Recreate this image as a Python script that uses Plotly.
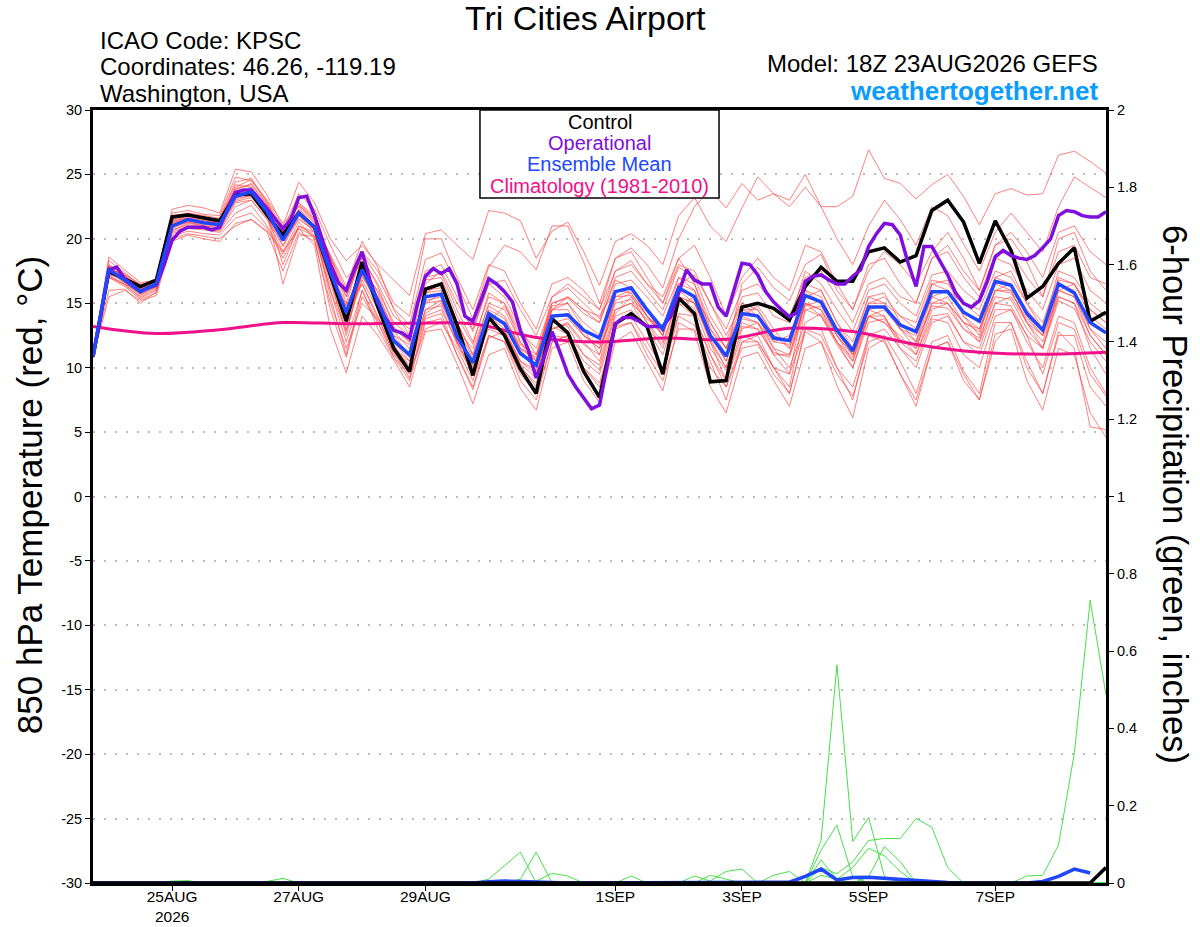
import pandas as pd
import plotly.graph_objects as go

# 6-hourly GEFS steps from 18Z 23AUG2026 out to 384h
run_start = "2026-08-23 18:00"
n_steps = 65

# ensemble mean 850 hPa temperature (C)
ens_mean = [10.85, 17.6, 16.8, 15.9, 16.5, 21.0, 21.5, 21.25, 21.1, 23.3, 23.66, 22.1, 19.9, 22.0, 20.9, 17.4,
            14.3, 17.6, 15.2, 12.1, 11.0, 15.5, 15.7, 12.4, 10.4, 14.2, 13.4, 11.1, 10.2, 14.0, 14.1, 12.9,
            12.3, 15.9, 16.2, 14.5, 13.0, 16.2, 15.5, 12.5, 10.9, 14.2, 14.0, 12.3, 12.1, 15.6, 15.1, 12.9,
            11.3, 14.7, 14.7, 13.3, 12.8, 15.9, 15.9, 14.3, 13.6, 16.7, 16.4, 14.2, 12.9, 16.5, 15.8, 13.5, 12.7]

# control run
control = [10.85, 17.45, 16.9, 16.3, 16.8, 21.7, 21.85, 21.6, 21.4, 23.4, 23.5, 21.85, 20.3, 22.0, 20.9, 17.2,
           13.6, 18.2, 14.7, 11.5, 9.7, 16.1, 16.5, 13.3, 9.4, 13.9, 12.5, 9.9, 8.0, 13.8, 12.7, 9.7,
           7.7, 13.4, 14.2, 13.2, 9.5, 15.4, 14.2, 8.9, 9.0, 14.7, 15.0, 14.6, 13.7, 16.3, 17.8, 16.7,
           16.7, 19.0, 19.3, 18.2, 18.7, 22.2, 23.0, 21.3, 18.1, 21.4, 19.1, 15.4, 16.3, 18.1, 19.3, 13.6, 14.3]

# operational GFS, 3-hourly
operational = [10.85, 14.3, 17.6, 17.8, 16.9, 16.4, 15.9, 16.2, 16.4, 18.0, 19.9, 20.6, 20.9, 20.9, 20.9, 20.7,
               20.9, 22.3, 23.6, 23.8, 23.8, 23.1, 22.3, 21.5, 20.8, 21.5, 23.2, 23.3, 21.8, 19.9, 18.0, 16.6,
               16.0, 17.6, 19.0, 16.8, 15.0, 13.8, 12.9, 12.7, 12.3, 15.0, 17.1, 17.7, 17.3, 17.7, 16.5, 14.0,
               13.6, 15.2, 16.9, 16.5, 15.9, 15.1, 12.9, 11.4, 9.2, 10.8, 12.8, 11.2, 9.5, 8.5, 7.6, 6.8,
               7.1, 10.3, 13.4, 13.9, 13.9, 13.6, 13.2, 13.2, 13.2, 14.0, 15.8, 17.6, 16.8, 16.5, 16.5, 14.7,
               14.0, 16.0, 18.1, 18.0, 17.2, 15.9, 15.1, 14.5, 13.95, 14.3, 16.7, 17.1, 17.2, 16.8, 16.5, 16.5,
               17.1, 17.6, 19.4, 20.4, 21.2, 21.1, 20.3, 18.1, 16.3, 19.4, 19.4, 18.3, 17.2, 15.8, 15.0, 14.7,
               15.2, 16.7, 18.6, 19.1, 18.7, 18.5, 18.4, 18.7, 19.3, 20.0, 21.8, 22.2, 22.1, 21.8, 21.7, 21.7, 22.1]

# 1981-2010 climatology, once a day
climatology = [13.2, 12.65, 12.95, 13.5, 13.4, 13.45, 13.4, 12.35, 12.0, 12.3, 12.2, 13.05, 12.8, 11.8, 11.2, 11.05, 11.2]

# perturbed members
members = [
    [10.8, 17.9, 17.3, 16.4, 16.9, 22.3, 22.6, 22.4, 22.0, 25.4, 25.2, 23.4, 21.0, 24.4, 22.8, 20.0,
     18.3, 19.5, 18.0, 16.8, 15.6, 20.4, 20.7, 19.5, 18.4, 22.2, 22.0, 21.4, 18.5, 20.6, 21.3, 19.0,
     16.4, 19.8, 20.4, 19.5, 18.0, 21.8, 23.2, 21.0, 19.8, 22.4, 24.8, 23.5, 23.0, 25.0, 22.5, 22.5,
     23.3, 26.9, 24.7, 24.3, 23.1, 24.2, 25.0, 23.3, 21.1, 23.5, 23.9, 23.4, 23.5, 26.5, 26.8, 26.0, 25.1],
    [10.9, 17.2, 16.9, 16.0, 16.6, 21.8, 22.0, 21.8, 21.6, 24.4, 24.7, 22.9, 20.8, 22.6, 21.6, 18.6,
     15.5, 18.9, 17.0, 14.6, 13.3, 18.4, 18.9, 16.5, 13.8, 17.8, 19.5, 19.0, 17.6, 21.0, 21.0, 18.2,
     15.0, 18.5, 19.3, 18.0, 16.2, 20.0, 22.5, 23.8, 22.4, 24.3, 23.0, 23.5, 22.5, 24.0, 22.5, 20.0,
     18.0, 21.0, 23.0, 21.5, 19.5, 22.5, 21.8, 19.6, 17.5, 20.5, 22.0, 20.5, 19.0, 22.5, 24.8, 24.0, 23.2],
    [10.8, 17.0, 16.5, 15.4, 16.0, 20.2, 20.6, 20.4, 20.3, 21.6, 22.0, 20.8, 18.5, 20.8, 19.5, 13.0,
     9.6, 14.0, 12.5, 10.6, 8.5, 12.8, 13.0, 10.3, 7.2, 11.0, 11.5, 8.4, 6.7, 11.5, 12.0, 9.0,
     7.3, 12.0, 12.8, 10.5, 8.2, 13.5, 12.8, 8.5, 6.5, 10.8, 11.2, 9.0, 7.0, 11.5, 12.0, 8.6,
     6.1, 11.5, 12.2, 9.5, 7.0, 11.5, 12.0, 9.5, 7.5, 12.6, 13.0, 9.0, 6.7, 11.5, 11.0, 6.5, 4.6],
    [10.9, 17.5, 16.6, 15.7, 16.2, 20.5, 21.0, 20.8, 20.6, 22.5, 23.0, 21.5, 19.0, 21.3, 20.0, 14.5,
     10.8, 15.5, 13.5, 11.2, 9.2, 13.8, 14.2, 11.0, 8.3, 12.3, 12.8, 10.2, 8.5, 12.5, 12.3, 10.0,
     8.8, 13.2, 13.5, 11.5, 9.5, 14.0, 13.3, 10.5, 7.5, 12.0, 12.5, 10.0, 8.0, 12.8, 12.0, 9.5,
     7.8, 12.0, 12.5, 10.5, 8.0, 12.0, 12.5, 9.7, 8.0, 13.5, 13.5, 10.5, 8.0, 12.8, 11.5, 5.4, 5.2],
    [10.8, 17.8, 17.1, 16.2, 16.8, 21.5, 21.9, 21.7, 21.5, 23.9, 24.2, 22.6, 20.6, 22.8, 21.5, 18.2,
     15.5, 18.6, 16.3, 13.2, 12.0, 16.8, 17.0, 14.0, 11.8, 15.8, 15.0, 12.8, 11.5, 15.0, 15.4, 14.2,
     13.5, 17.0, 17.5, 16.0, 14.5, 17.8, 17.0, 14.0, 12.0, 15.5, 15.8, 14.0, 13.5, 17.5, 16.5, 14.5,
     12.8, 16.0, 16.5, 15.0, 14.0, 17.2, 17.5, 16.0, 15.0, 18.5, 18.0, 16.0, 14.5, 18.0, 18.5, 16.0, 15.0],
    [10.8, 17.4, 16.6, 15.6, 16.3, 20.6, 21.2, 21.0, 20.9, 22.9, 23.2, 21.8, 19.4, 21.6, 20.5, 16.5,
     13.0, 16.8, 14.5, 11.5, 10.2, 14.5, 14.8, 11.8, 9.5, 13.3, 12.8, 10.3, 9.2, 13.0, 13.4, 11.8,
     11.0, 15.0, 15.3, 13.5, 12.0, 15.3, 14.6, 11.5, 9.8, 13.2, 13.0, 11.2, 10.8, 14.5, 14.0, 11.8,
     10.0, 13.5, 13.8, 12.2, 11.5, 14.8, 14.6, 13.0, 12.3, 15.5, 15.3, 13.0, 11.5, 15.2, 14.6, 12.0, 10.5],
    [10.9, 18.6, 17.6, 16.6, 16.8, 22.0, 22.2, 21.9, 21.8, 24.8, 24.5, 23.0, 21.2, 22.5, 21.3, 17.0,
     12.5, 17.5, 15.0, 12.0, 10.5, 15.8, 16.0, 12.0, 9.5, 13.5, 14.8, 12.5, 10.5, 15.5, 16.2, 15.0,
     13.8, 17.5, 18.3, 16.5, 15.5, 18.5, 16.5, 13.0, 11.0, 16.5, 17.8, 16.2, 15.2, 18.0, 18.8, 16.0,
     14.5, 17.5, 19.0, 18.0, 16.5, 19.0, 20.5, 18.5, 16.0, 19.5, 20.0, 18.2, 15.5, 20.0, 20.5, 17.5, 16.0],
    [10.8, 17.0, 16.3, 15.3, 15.8, 20.0, 20.4, 20.2, 20.0, 21.0, 21.5, 20.5, 17.5, 20.5, 19.8, 15.0,
     11.5, 15.0, 13.8, 12.5, 11.8, 15.0, 15.8, 13.0, 10.8, 14.0, 13.0, 10.5, 9.8, 13.2, 12.6, 11.0,
     10.2, 14.2, 15.5, 14.0, 12.5, 16.5, 17.2, 15.0, 12.5, 15.0, 14.0, 11.5, 10.0, 13.5, 14.2, 12.0,
     10.5, 14.5, 14.0, 11.5, 10.0, 13.5, 14.0, 12.0, 11.0, 14.5, 14.5, 12.5, 11.5, 15.5, 15.0, 11.5, 9.5],
    [10.8, 17.7, 17.2, 16.5, 16.6, 21.3, 21.8, 21.5, 21.3, 24.0, 24.6, 22.8, 20.4, 22.3, 21.2, 18.8,
     16.3, 19.8, 17.8, 14.5, 12.5, 17.5, 18.0, 15.5, 12.8, 16.5, 15.5, 13.0, 11.0, 14.8, 15.0, 13.5,
     12.5, 16.5, 16.8, 15.5, 14.0, 17.0, 16.0, 13.0, 11.5, 14.5, 14.5, 12.5, 11.5, 16.0, 15.5, 13.0,
     11.0, 15.0, 15.5, 14.0, 13.5, 16.8, 16.5, 15.0, 14.5, 17.5, 17.0, 15.0, 13.5, 17.0, 16.5, 14.0, 13.0],
    [10.9, 17.3, 16.9, 15.8, 16.4, 20.8, 21.3, 21.1, 21.0, 23.1, 23.8, 22.5, 20.8, 22.8, 21.8, 18.0,
     14.0, 17.2, 14.8, 11.8, 10.0, 14.2, 15.0, 12.6, 10.0, 13.8, 13.6, 11.8, 11.0, 14.5, 14.5, 12.5,
     11.5, 14.5, 15.0, 13.8, 12.8, 16.0, 15.5, 12.0, 10.0, 13.5, 13.0, 11.0, 11.0, 15.0, 14.5, 12.0,
     10.0, 14.0, 14.5, 13.0, 12.5, 15.5, 15.0, 13.5, 13.0, 16.5, 16.0, 13.5, 12.0, 16.0, 15.5, 13.0, 12.0],
    [10.8, 17.9, 17.0, 16.0, 16.5, 21.2, 21.6, 21.3, 21.2, 23.5, 24.0, 22.3, 20.0, 22.2, 21.0, 18.5,
     15.0, 19.0, 17.5, 15.0, 14.0, 20.0, 20.0, 17.0, 14.5, 18.0, 17.5, 15.0, 13.0, 16.5, 17.0, 16.0,
     14.5, 18.5, 19.0, 17.0, 15.0, 18.0, 17.5, 15.0, 13.0, 16.0, 16.5, 15.0, 14.0, 17.0, 17.5, 15.5,
     13.5, 16.5, 17.0, 15.5, 15.0, 18.5, 19.0, 17.0, 15.5, 18.8, 19.0, 17.0, 15.5, 19.0, 19.5, 17.0, 16.5],
    [10.8, 16.0, 16.1, 15.0, 15.9, 20.4, 20.8, 20.7, 20.5, 22.0, 22.6, 21.0, 18.8, 21.0, 20.3, 16.0,
     12.0, 16.0, 13.0, 10.8, 9.5, 13.0, 13.5, 11.5, 9.0, 12.5, 12.0, 9.5, 8.0, 12.0, 12.5, 10.5,
     9.5, 13.5, 14.0, 12.0, 10.0, 14.2, 14.0, 11.0, 9.0, 12.5, 12.0, 10.0, 9.5, 13.0, 12.5, 10.0,
     8.5, 12.5, 13.0, 11.5, 10.5, 13.8, 13.5, 11.0, 10.0, 14.0, 14.5, 12.0, 10.0, 14.0, 13.5, 10.0, 8.0],
    [10.9, 17.6, 16.8, 15.9, 16.7, 21.0, 21.4, 21.2, 21.2, 23.5, 23.9, 22.0, 16.5, 20.3, 20.2, 17.5,
     13.5, 17.0, 15.5, 13.0, 12.0, 16.0, 16.2, 13.5, 11.0, 15.0, 14.5, 12.0, 10.5, 14.5, 15.0, 13.0,
     11.0, 15.5, 16.0, 14.5, 12.5, 16.5, 16.0, 12.5, 10.5, 14.0, 13.5, 11.0, 9.5, 15.5, 16.0, 13.5,
     11.5, 15.5, 15.8, 13.5, 12.0, 16.5, 16.8, 14.0, 12.5, 17.0, 17.5, 15.0, 13.0, 16.5, 16.0, 13.0, 11.5],
    [10.8, 18.3, 17.4, 16.3, 16.6, 21.6, 22.0, 21.6, 21.5, 24.2, 24.0, 22.4, 20.6, 23.5, 22.3, 19.5,
     17.0, 18.0, 15.8, 12.8, 11.5, 15.2, 15.5, 12.8, 11.5, 14.8, 14.0, 11.5, 9.5, 13.5, 13.2, 11.0,
     9.8, 14.0, 14.5, 13.0, 11.8, 15.5, 15.0, 12.0, 9.0, 13.0, 13.5, 12.0, 12.5, 16.0, 15.0, 12.5,
     11.0, 14.0, 14.0, 12.0, 11.0, 14.5, 15.0, 13.0, 12.0, 15.0, 15.5, 13.5, 12.5, 16.8, 16.5, 14.5, 13.5],
    [10.8, 15.5, 16.0, 15.2, 15.6, 19.8, 20.3, 20.0, 19.8, 21.2, 21.5, 20.6, 19.0, 20.8, 20.2, 17.0,
     14.8, 16.5, 14.0, 11.0, 9.8, 14.0, 14.5, 12.0, 10.5, 13.0, 12.5, 10.0, 8.8, 13.0, 13.5, 12.0,
     10.5, 14.5, 15.0, 13.0, 11.0, 14.8, 15.5, 13.5, 11.5, 14.0, 14.8, 13.0, 11.5, 14.8, 15.2, 13.0,
     11.5, 15.0, 15.0, 13.0, 11.5, 15.0, 15.5, 13.5, 12.0, 16.0, 16.5, 14.0, 12.5, 15.5, 15.0, 12.5, 11.0],
    [10.8, 17.5, 17.0, 16.1, 16.4, 21.1, 21.5, 21.3, 21.1, 23.4, 23.6, 22.0, 18.0, 21.0, 20.5, 16.0,
     12.8, 17.5, 16.0, 13.5, 12.5, 17.0, 17.3, 14.5, 12.0, 15.5, 15.0, 12.0, 10.0, 14.0, 14.0, 12.5,
     11.8, 15.5, 15.6, 13.5, 11.5, 15.0, 14.0, 11.0, 8.5, 12.0, 12.0, 10.0, 8.5, 14.5, 14.8, 12.5,
     10.5, 14.0, 13.5, 12.5, 11.0, 14.0, 14.2, 12.0, 11.5, 15.0, 14.8, 12.5, 9.5, 13.5, 13.0, 9.5, 7.8],
    [10.9, 17.6, 16.7, 16.0, 16.6, 21.2, 21.7, 21.4, 21.3, 23.6, 23.5, 22.4, 20.5, 22.2, 21.0, 17.8,
     14.8, 17.8, 15.5, 12.5, 11.0, 15.8, 16.5, 13.5, 11.0, 14.5, 13.8, 11.5, 10.5, 15.0, 15.5, 14.5,
     13.5, 16.8, 16.2, 14.0, 13.0, 17.0, 16.5, 13.5, 11.5, 15.0, 14.5, 12.5, 12.0, 16.5, 16.0, 13.5,
     12.0, 15.5, 15.0, 14.0, 13.0, 16.5, 16.0, 15.0, 14.0, 17.0, 16.5, 14.5, 13.0, 17.5, 17.0, 15.0, 14.0],
    [10.8, 17.2, 16.4, 15.5, 16.1, 20.7, 21.1, 20.9, 20.7, 22.8, 23.0, 21.6, 19.5, 21.8, 20.6, 15.5,
     11.0, 16.0, 13.5, 10.8, 9.0, 13.5, 13.8, 11.0, 8.5, 12.5, 12.0, 9.0, 7.5, 12.0, 12.5, 10.0,
     8.5, 13.0, 13.5, 11.0, 9.0, 13.0, 13.0, 10.0, 8.5, 11.5, 11.8, 9.5, 8.0, 13.0, 13.0, 10.0,
     7.5, 12.5, 12.0, 9.5, 7.5, 11.5, 12.0, 9.0, 7.5, 12.0, 13.5, 10.0, 8.0, 12.5, 12.5, 8.5, 7.0],
    [10.8, 18.0, 17.2, 16.2, 16.5, 21.4, 21.6, 21.4, 21.2, 23.0, 23.4, 22.2, 20.2, 22.0, 21.0, 17.5,
     14.0, 16.5, 13.8, 11.5, 10.5, 14.5, 15.2, 12.8, 10.2, 14.0, 13.5, 11.5, 10.8, 14.5, 15.5, 14.5,
     14.0, 16.0, 15.8, 14.0, 12.8, 15.5, 15.0, 12.5, 10.5, 14.5, 14.0, 12.0, 11.8, 15.0, 14.5, 12.5,
     11.0, 14.0, 13.5, 12.0, 11.8, 15.0, 15.0, 13.5, 12.8, 16.0, 16.0, 13.5, 11.5, 16.0, 16.5, 14.5, 13.5],
    [10.9, 17.1, 16.5, 15.8, 16.3, 20.9, 21.3, 21.0, 20.8, 23.2, 23.3, 21.8, 19.8, 21.5, 20.7, 16.8,
     13.8, 17.2, 15.0, 12.0, 10.8, 15.0, 15.2, 12.0, 9.8, 13.5, 12.8, 10.5, 9.5, 13.5, 13.8, 12.5,
     11.5, 15.2, 15.8, 14.0, 12.5, 16.0, 15.0, 12.2, 10.0, 13.8, 13.5, 11.5, 11.0, 15.0, 14.0, 12.0,
     10.8, 14.5, 14.8, 13.0, 12.0, 15.5, 16.0, 14.0, 13.0, 16.0, 15.8, 13.8, 12.5, 16.0, 15.5, 12.5, 11.0],
    [10.8, 17.8, 17.0, 16.1, 16.6, 21.4, 21.9, 21.6, 21.4, 23.8, 24.3, 22.7, 20.6, 22.6, 21.4, 18.6,
     16.0, 18.5, 16.5, 14.0, 13.0, 16.5, 17.5, 15.0, 13.0, 16.5, 16.8, 14.5, 12.5, 15.5, 16.5, 15.5,
     14.5, 17.5, 18.0, 16.5, 15.0, 18.5, 19.5, 17.0, 14.0, 17.0, 18.5, 17.0, 16.0, 19.5, 19.0, 16.5,
     14.5, 18.0, 18.5, 16.5, 15.0, 18.5, 19.5, 17.5, 16.0, 19.5, 20.5, 19.0, 17.0, 20.5, 21.0, 19.0, 18.0],
]

# 6-hour precipitation (inches) for the members that had any
z = [0.0] * 25
precip_members = [
    z + [0.0] * 21 + [0.111, 0.564, 0.107, 0.17, 0.017] + [0.0] * 14,
    z + [0.0] * 21 + [0.085, 0.15, 0.016] + [0.0] * 16,
    z + [0.0] * 21 + [0.04, 0.024, 0.055, 0.11, 0.115, 0.115, 0.167, 0.144, 0.04] + [0.0] * 10,
    z + [0.0] * 24 + [0.016, 0.094, 0.055] + [0.0] * 13,
    z + [0.0] * 34 + [0.018, 0.02, 0.098, 0.336, 0.732, 0.487],
    z + [0.01, 0.044, 0.08] + [0.0] * 37,
    z + [0.0, 0.0, 0.01, 0.08] + [0.0] * 36,
    z + [0.0, 0.0, 0.0, 0.005, 0.025, 0.018] + [0.0] * 34,
    [0.0] * 5 + [0.005, 0.006, 0.0, 0.0, 0.0, 0.0, 0.004, 0.012] + [0.0] * 30 + [0.02, 0.03] + [0.0] * 20,
    z + [0.0] * 13 + [0.018, 0.005, 0.03, 0.036] + [0.0] * 23,
    z + [0.0] * 9 + [0.018] + [0.0] * 4 + [0.02, 0.01] + [0.0] * 24,
    z + [0.0] * 21 + [0.02, 0.01, 0.04, 0.09, 0.07, 0.03] + [0.0] * 13,
    z + [0.0] * 21 + [0.06, 0.01] + [0.0] * 18,
]
precip_mean = z + [0.003, 0.005, 0.004, 0.002] + [0.0] * 15 + [0.002, 0.017, 0.036, 0.008, 0.014, 0.015,
                                                               0.012, 0.008, 0.006, 0.003, 0.001, 0.0, 0.0,
                                                               0.0, 0.0, 0.0, 0.004, 0.017, 0.036, 0.026]
precip_control = [0.0] * 64 + [0.04]

tick_dates = ["2026-08-25", "2026-08-27", "2026-08-29", "2026-09-01", "2026-09-03", "2026-09-05", "2026-09-07"]
tick_labels = ["25AUG<br>2026", "27AUG", "29AUG", "1SEP", "3SEP", "5SEP", "7SEP"]
temp_ticks = list(range(-30, 31, 5))

t6 = pd.date_range(run_start, periods=n_steps, freq="6h")
t3 = pd.date_range(run_start, periods=len(operational), freq="3h")
t24 = pd.date_range(run_start, periods=len(climatology), freq="24h")

fig = go.Figure()
for m in members:
    fig.add_trace(go.Scatter(x=t6, y=m, mode="lines", line=dict(color="rgba(255,60,60,0.65)", width=1),
                             hoverinfo="skip"))
for p in precip_members:
    fig.add_trace(go.Scatter(x=t6, y=p, yaxis="y2", mode="lines", line=dict(color="#48e048", width=1),
                             hoverinfo="skip"))
fig.add_trace(go.Scatter(x=t24, y=climatology, mode="lines", line=dict(color="#f0108a", width=3, shape="spline")))
fig.add_trace(go.Scatter(x=t6, y=control, mode="lines", line=dict(color="black", width=3.5)))
fig.add_trace(go.Scatter(x=t3, y=operational, mode="lines", line=dict(color="#7f0fdc", width=3.5)))
fig.add_trace(go.Scatter(x=t6, y=ens_mean, mode="lines", line=dict(color="#2146ff", width=3.5)))
fig.add_trace(go.Scatter(x=t6, y=precip_mean, yaxis="y2", mode="lines", line=dict(color="#2146ff", width=3.5)))
fig.add_trace(go.Scatter(x=t6, y=precip_control, yaxis="y2", mode="lines", line=dict(color="black", width=3.5)))

font = "Liberation Sans, Arial, sans-serif"
fig.update_layout(
    width=1200, height=927, showlegend=False, plot_bgcolor="white", paper_bgcolor="white",
    margin=dict(l=93, r=94, t=110, b=44),
    font=dict(family=font, color="black", size=15),
    xaxis=dict(type="date", range=[t6[0], t6[-1]], tickvals=tick_dates, ticktext=tick_labels,
               showgrid=False, showline=True, linecolor="black", linewidth=3, mirror=True, automargin=False,
               ticks="outside", ticklen=5, tickcolor="black", tickfont=dict(size=15.5), ticklabelstandoff=-8),
    yaxis=dict(range=[-30, 30], tickvals=temp_ticks, ticktext=[str(v) for v in temp_ticks], automargin=False,
               showline=True, linecolor="black", linewidth=3, ticks="outside", ticklen=5, tickcolor="black",
               tickfont=dict(size=14.5),
               showgrid=True, gridcolor="#bdbdbd", griddash="2px,9px", gridwidth=1.5, zeroline=False),
    yaxis2=dict(range=[0, 2], dtick=0.2, overlaying="y", side="right", showgrid=False, zeroline=False,
                showline=True, linecolor="black", linewidth=3, ticks="outside", ticklen=5, tickcolor="black",
                tickfont=dict(size=14.5), automargin=False),
)

# legend box
fig.add_shape(type="rect", xref="paper", yref="paper", x0=0.382, x1=0.618, y0=0.886, y1=1.0,
              line=dict(color="black", width=1.5), fillcolor="white", layer="above")
legend = [("Control", "black", 0.984), ("Operational", "#7f0fdc", 0.957),
          ("Ensemble Mean", "#2146ff", 0.930), ("Climatology (1981-2010)", "#f0108a", 0.902)]
for txt, col, yy in legend:
    fig.add_annotation(x=0.5, y=yy, xref="paper", yref="paper", text=txt, showarrow=False,
                       xanchor="center", yanchor="middle", font=dict(size=20, color=col))

# header text
fig.add_annotation(x=0.486, y=1.119, xref="paper", yref="paper", text="Tri Cities Airport", showarrow=False,
                   xanchor="center", yanchor="middle", font=dict(size=34))
for txt, yy in [("ICAO Code: KPSC", 1.090), ("Coordinates: 46.26, -119.19", 1.056), ("Washington, USA", 1.021)]:
    fig.add_annotation(x=0.005, y=yy, xref="paper", yref="paper", text=txt, showarrow=False,
                       xanchor="left", yanchor="middle", font=dict(size=24))
fig.add_annotation(x=0.994, y=1.060, xref="paper", yref="paper", text="Model: 18Z 23AUG2026 GEFS",
                   showarrow=False, xanchor="right", yanchor="middle", font=dict(size=24))
fig.add_annotation(x=0.994, y=1.025, xref="paper", yref="paper", text="<b>weathertogether.net</b>",
                   showarrow=False, xanchor="right", yanchor="middle", font=dict(size=26, color="#0a9cff"))

# axis titles
fig.add_annotation(x=-0.062, y=0.502, xref="paper", yref="paper", text="850 hPa Temperature (red, °C)",
                   textangle=-90, showarrow=False, xanchor="center", yanchor="middle", font=dict(size=35))
fig.add_annotation(x=1.068, y=0.502, xref="paper", yref="paper", text="6-hour Precipitation (green, inches)",
                   textangle=90, showarrow=False, xanchor="center", yanchor="middle", font=dict(size=34.5))

# drop the default 8px body margin so the figure fills the window exactly
fig.write_html("out.html", config={"displayModeBar": False},
               post_script="document.body.style.margin='0';"
                           "document.documentElement.style.overflow='hidden';")
